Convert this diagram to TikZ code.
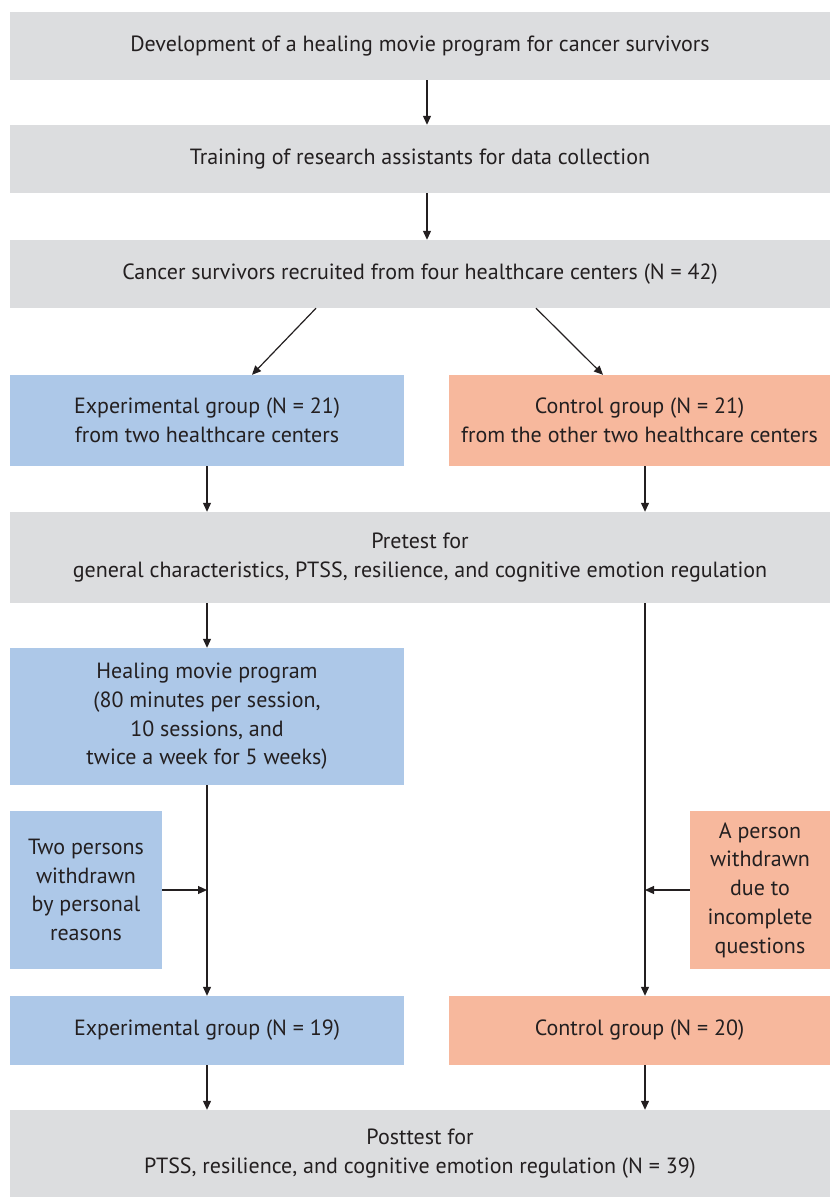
\documentclass[tikz,border=0pt]{standalone}
\usepackage{fontspec}
\setmainfont{PT Sans}
\usetikzlibrary{arrows.meta}
\definecolor{boxgray}{HTML}{DCDDDF}
\definecolor{boxblue}{HTML}{ADC8E8}
\definecolor{boxsalmon}{HTML}{F7B89D}
\definecolor{ink}{HTML}{231F20}
\tikzset{
  box/.style={rectangle, draw=none, inner sep=1pt, align=center, text=ink,
    font=\fontsize{22}{28.7}\selectfont},
  graybox/.style={box, fill=boxgray},
  bluebox/.style={box, fill=boxblue},
  salmonbox/.style={box, fill=boxsalmon},
  arr/.style={draw=ink, line width=1.2pt, -{Triangle[length=9pt,width=8pt]}},
  plain/.style={draw=ink, line width=1.2pt}
}
\begin{document}
\begin{tikzpicture}[x=1pt,y=-1pt]
\useasboundingbox (0,0) rectangle (830,1197);
\node[graybox, minimum width=820pt, minimum height=68pt] (b1) at (420,46) {Development of a healing movie program for cancer survivors};
\node[graybox, minimum width=820pt, minimum height=68pt] (b2) at (420,159) {Training of research assistants for data collection};
\node[graybox, minimum width=820pt, minimum height=68pt] (b3) at (420,274) {Cancer survivors recruited from four healthcare centers (N = 42)};
\node[bluebox, minimum width=394pt, minimum height=91pt] (e1) at (207,420.5) {Experimental group (N = 21)\\from two healthcare centers};
\node[salmonbox, minimum width=381pt, minimum height=91pt] (c1) at (639.5,420.5) {Control group (N = 21)\\from the other two healthcare centers};
\node[graybox, minimum width=820pt, minimum height=91pt] (pre) at (420,557.5) {Pretest for\\general characteristics, PTSS, resilience, and cognitive emotion regulation};
\node[bluebox, minimum width=394pt, minimum height=137pt] (heal) at (207,716.5) {Healing movie program\\(80 minutes per session,\\10 sessions, and\\twice a week for 5 weeks)};
\node[bluebox, minimum width=152pt, minimum height=158pt] (two) at (86,890) {Two persons\\withdrawn\\by personal\\reasons};
\node[salmonbox, minimum width=140pt, minimum height=158pt] (one) at (760,890) {A person\\withdrawn\\due to\\incomplete\\questions};
\node[bluebox, minimum width=394pt, minimum height=69pt] (e2) at (207,1030.5) {Experimental group (N = 19)};
\node[salmonbox, minimum width=381pt, minimum height=69pt] (c2) at (639.5,1030.5) {Control group (N = 20)};
\node[graybox, minimum width=820pt, minimum height=87pt] (post) at (420,1153.5) {Posttest for\\PTSS, resilience, and cognitive emotion regulation (N = 39)};
% connectors
\draw[arr] ([xshift=7pt]b1.south) -- ([xshift=7pt]b2.north);
\draw[arr] ([xshift=7pt]b2.south) -- ([xshift=7pt]b3.north);
\draw[arr] ([xshift=-104pt]b3.south) -- ([xshift=45pt]e1.north);
\draw[arr] ([xshift=116pt]b3.south) -- ([xshift=-36.5pt]c1.north);
\draw[arr] (e1.south) -- (e1.south |- pre.north);
\draw[arr] ([xshift=5.5pt]c1.south) -- ([xshift=5.5pt]c1.south |- pre.north);
\draw[arr] (pre.south -| heal.north) -- (heal.north);
\draw[arr] (heal.south) -- (e2.north);
\draw[arr] ([xshift=5.5pt]c1.south |- pre.south) -- ([xshift=5.5pt]c2.north);
\coordinate (jl) at (heal.south |- two.east);
\coordinate (jr) at ([xshift=5.5pt]c2.north |- one.west);
\draw[arr] (two.east) -- (jl);
\draw[arr] (one.west) -- (jr);
\draw[arr] (e2.south) -- (e2.south |- post.north);
\draw[arr] ([xshift=5.5pt]c2.south) -- ([xshift=5.5pt]c2.south |- post.north);
\end{tikzpicture}
\end{document}
